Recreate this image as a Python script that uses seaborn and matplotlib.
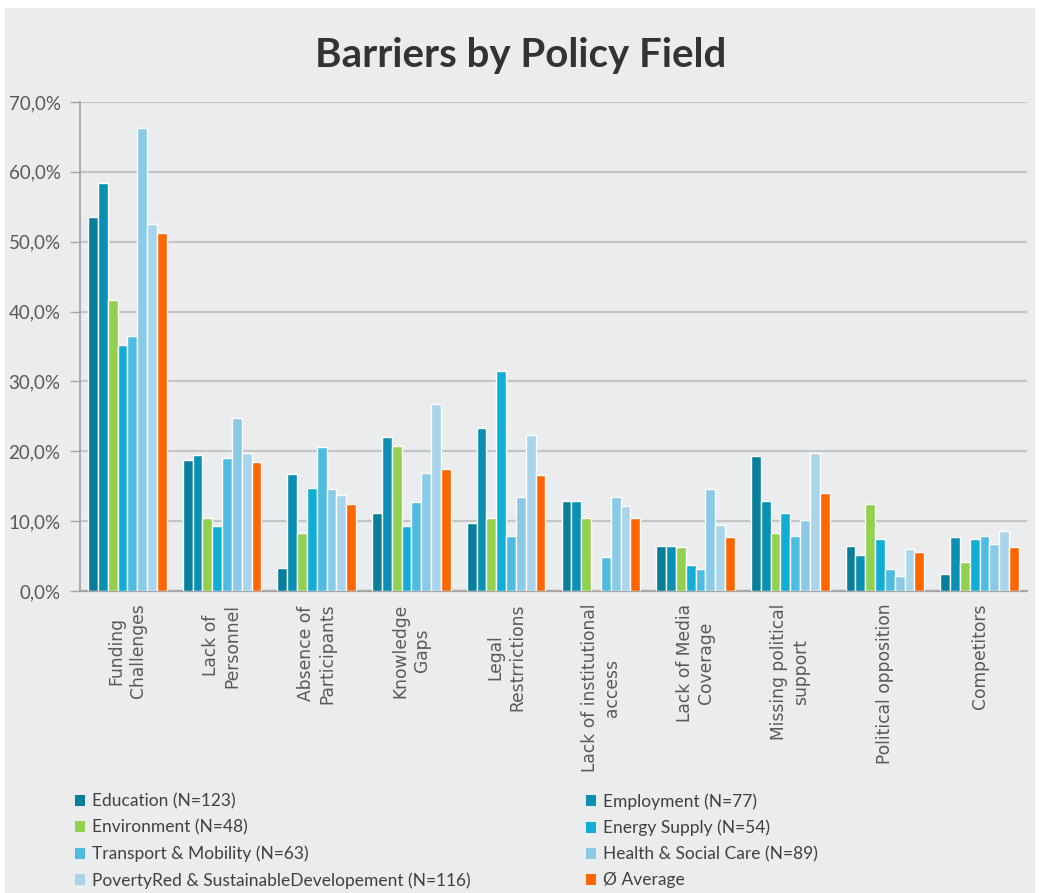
import numpy as np
import pandas as pd
import matplotlib
matplotlib.use("Agg")
import matplotlib.pyplot as plt
from matplotlib.ticker import FuncFormatter, MultipleLocator
from matplotlib.patches import Rectangle, Patch
import seaborn as sns

# Barrier categories (x axis)
barriers = [
    "Funding\nChallenges", "Lack of\nPersonnel", "Absence of\nParticipants",
    "Knowledge\nGaps", "Legal\nRestrrictions", "Lack of institutional\naccess",
    "Lack of Media\nCoverage", "Missing political\nsupport",
    "Political opposition", "Competitors",
]

# Policy fields (series)
fields = [
    "Education (N=123)", "Employment (N=77)", "Environment (N=48)",
    "Energy Supply (N=54)", "Transport & Mobility (N=63)",
    "Health & Social Care (N=89)",
    "PovertyRed & SustainableDevelopement (N=116)", "Ø Average",
]

# Share of respondents naming each barrier, in percent
education   = [53.5, 18.7,  3.3, 11.2,  9.7, 12.9,  6.5, 19.3,  6.5, 2.4]
employment  = [58.4, 19.4, 16.8, 22.1, 23.4, 12.9,  6.5, 12.9,  5.2, 7.7]
environment = [41.7, 10.4,  8.3, 20.8, 10.4, 10.4,  6.3,  8.3, 12.5, 4.2]
energy      = [35.2,  9.3, 14.8,  9.3, 31.5,  0.0,  3.7, 11.1,  7.4, 7.4]
transport   = [36.5, 19.0, 20.6, 12.7,  7.9,  4.8,  3.2,  7.9,  3.2, 7.9]
health      = [66.3, 24.7, 14.6, 16.9, 13.5, 13.5, 14.6, 10.1,  2.2, 6.7]
poverty     = [52.6, 19.8, 13.8, 26.7, 22.4, 12.1,  9.5, 19.8,  6.0, 8.6]
average     = [51.3, 18.4, 12.5, 17.5, 16.6, 10.4,  7.7, 14.1,  5.6, 6.3]

palette = ["#077E9A", "#0A90B2", "#92D050", "#10ADD6",
           "#4FBBE0", "#8ACAE6", "#A8D5EC", "#FF6600"]

series = [education, employment, environment, energy,
          transport, health, poverty, average]
df = pd.DataFrame({
    "barrier": np.tile(barriers, len(fields)),
    "field": np.repeat(fields, len(barriers)),
    "value": np.concatenate(series),
})

sns.set_theme(style="white")
plt.rcParams["font.family"] = ["Lato", "DejaVu Sans"]

BG = "#EBECEE"
fig = plt.figure(figsize=(10.42, 8.93), dpi=100, facecolor="white")
fig.patches.append(Rectangle((5 / 1042, 0), 1 - 12 / 1042, 1 - 8 / 893,
                             transform=fig.transFigure, facecolor=BG,
                             edgecolor="none", zorder=-10))

ax = fig.add_axes([80 / 1042, 1 - 591 / 893, 947 / 1042, 489 / 893])
ax.set_facecolor(BG)

sns.barplot(data=df, x="barrier", y="value", hue="field", order=barriers,
            hue_order=fields, palette=palette, width=0.83,
            edgecolor="white", linewidth=1.0, saturation=1,
            legend=False, ax=ax, zorder=3)

ax.set_ylim(0, 70)
ax.yaxis.set_major_locator(MultipleLocator(10))
ax.yaxis.set_major_formatter(
    FuncFormatter(lambda v, _: f"{v:.1f}%".replace(".", ",")))
ax.grid(axis="y", color="#C4C5C7", linewidth=1.6, zorder=0)
ax.set_axisbelow(True)

for s in ["top", "right"]:
    ax.spines[s].set_visible(False)
ax.spines["left"].set_color("#A6A6A6")
ax.spines["bottom"].set_color("#A6A6A6")
ax.spines["left"].set_linewidth(1.3)
ax.spines["bottom"].set_linewidth(1.6)

ax.tick_params(axis="y", left=True, length=7, width=1, color="#A6A6A6",
               labelsize=13.5, labelcolor="#595959", pad=7)
ax.tick_params(axis="x", bottom=False, pad=3)
ax.set_xlabel("")
ax.set_ylabel("")
ax.set_xticks(range(len(barriers)))
ax.set_xticklabels(barriers, rotation=90, va="top", ha="center",
                   multialignment="center", linespacing=1.25,
                   fontfamily="DejaVu Sans", fontsize=12.3, color="#595959")

fig.text(0.5, 1 - 56 / 893, "Barriers by Policy Field", ha="center",
         va="center", fontsize=29, fontweight="bold", color="#333333")

# Legend: two columns, row-major order
handles = [Patch(facecolor=c, edgecolor="none") for c in palette]
order = [0, 2, 4, 6, 1, 3, 5, 7]
fig.legend([handles[i] for i in order], [fields[i] for i in order],
           ncol=2, loc="upper left", bbox_to_anchor=(68 / 1042, 1 - 786 / 893),
           frameon=False, fontsize=12.5, labelcolor="#404040",
           handlelength=0.6, handleheight=0.6, handletextpad=0.4,
           columnspacing=6.6, labelspacing=0.58, borderaxespad=0)

fig.savefig("out.png", dpi=100, facecolor=fig.get_facecolor())
